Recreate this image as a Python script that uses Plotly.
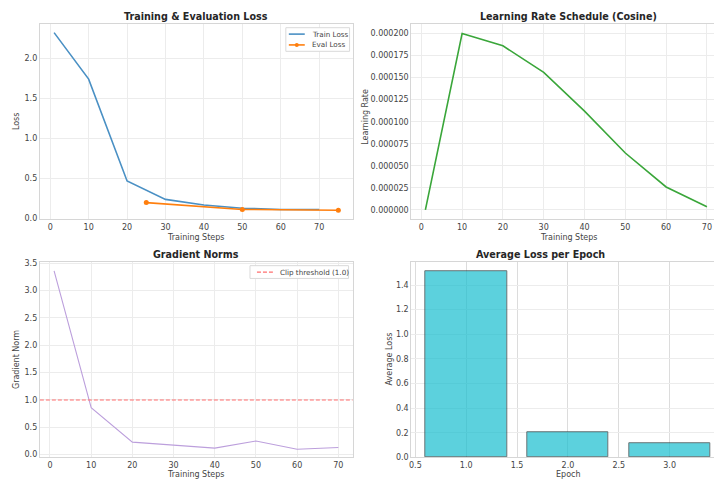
import plotly.graph_objects as go

# ---------------- data ----------------
train_steps = [1, 10, 20, 30, 40, 50, 60, 70]
train_loss = [2.32, 1.74, 0.47, 0.24, 0.17, 0.13, 0.115, 0.115]
eval_steps = [25, 50, 75]
eval_loss = [0.20, 0.115, 0.105]
lr_steps = [1, 10, 20, 30, 40, 50, 60, 70]
learning_rate = [0.0, 0.000200, 0.000186, 0.000156, 0.000112, 0.0000645, 0.000026, 0.0000035]
grad_steps = [1, 10, 20, 30, 40, 50, 60, 70]
grad_norm = [3.36, 0.86, 0.23, 0.17, 0.12, 0.25, 0.10, 0.13]
clip_threshold = 1.0
epochs = [1, 2, 3]
epoch_loss = [1.51, 0.202, 0.117]

PAGE_W, PAGE_H = 722, 486
OFF = 8  # default body margin of the html page
W, H = PAGE_W - OFF, PAGE_H - OFF
FONT = "DejaVu Sans"
GRID = "#ececec"
FRAME = "#d6d6d6"
TICKC = "#444444"

C_TRAIN = "#4a90c4"
C_EVAL = "#ff7f0e"
C_LR = "#3aa63a"
C_GRAD = "#bc9fdc"
C_CLIP = "#ff6f6f"


def px_x(p):
    return (p - OFF) / W


def px_y(p):
    return 1 - (p - OFF) / H


fig = go.Figure()

dom = {
    "x": ([px_x(38), px_x(352)], [px_y(220), px_y(21)]),
    "x2": ([px_x(411), 1.0], [px_y(220), px_y(21)]),
    "x3": ([px_x(38), px_x(352)], [px_y(462), px_y(263.5)]),
    "x4": ([px_x(411), 1.0], [px_y(462), px_y(263.5)]),
}

fig.add_trace(go.Scatter(x=train_steps, y=train_loss, mode="lines", name="Train Loss",
                         line=dict(color=C_TRAIN, width=1.6), xaxis="x", yaxis="y"))
fig.add_trace(go.Scatter(x=eval_steps, y=eval_loss, mode="lines+markers", name="Eval Loss",
                         line=dict(color=C_EVAL, width=1.6), marker=dict(size=5, color=C_EVAL),
                         xaxis="x", yaxis="y"))
fig.add_trace(go.Scatter(x=lr_steps, y=learning_rate, mode="lines", name="LR",
                         line=dict(color=C_LR, width=1.6), xaxis="x2", yaxis="y2"))
fig.add_trace(go.Scatter(x=grad_steps, y=grad_norm, mode="lines", name="Grad",
                         line=dict(color=C_GRAD, width=1.1), xaxis="x3", yaxis="y3"))
fig.add_shape(type="line", xref="x3 domain", yref="y3", x0=0, x1=1, y0=clip_threshold, y1=clip_threshold,
              line=dict(color=C_CLIP, width=1.2, dash="4px,2px"))
fig.add_trace(go.Bar(x=epochs, y=epoch_loss, width=0.8,
                     marker=dict(color="#17becf", opacity=0.7, line=dict(color="#2b3a3c", width=1)),
                     xaxis="x4", yaxis="y4"))

tickfont = dict(family=FONT, size=8, color=TICKC)


def axis(domain, anchor, rng, dtick, fmt=None, tick0=None, gridcolor=GRID):
    d = dict(domain=domain, anchor=anchor, range=rng, dtick=dtick, showgrid=True, gridcolor=gridcolor,
             gridwidth=1, zeroline=False, showline=True, linecolor=FRAME, linewidth=1, mirror=True,
             ticks="", tickfont=tickfont, ticklen=0)
    if fmt:
        d["tickformat"] = fmt
    if tick0 is not None:
        d["tick0"] = tick0
    return d


layout = dict(
    width=W, height=H, margin=dict(l=0, r=0, t=0, b=0, pad=0),
    paper_bgcolor="white", plot_bgcolor="white", showlegend=False,
    font=dict(family=FONT, color=TICKC),
    bargap=0,
)
layout["xaxis"] = axis(dom["x"][0], "y", [-2.7, 78.7], 10, tick0=0)
layout["yaxis"] = axis(dom["x"][1], "x", [-0.01, 2.43], 0.5, ".1f", tick0=0)
layout["xaxis2"] = axis(dom["x2"][0], "y2", [-2.45, 73.45], 10, tick0=0)
layout["yaxis2"] = axis(dom["x2"][1], "x2", [-0.0000108, 0.000211], 0.000025, ".6f", tick0=0)
layout["xaxis3"] = axis(dom["x3"][0], "y3", [-2.45, 73.45], 10, tick0=0)
layout["yaxis3"] = axis(dom["x3"][1], "x3", [-0.05, 3.52], 0.5, ".1f", tick0=0)
layout["xaxis4"] = axis(dom["x4"][0], "y4", [0.46, 3.505], 0.5, ".1f", tick0=0.5, gridcolor="#dcdcdc")
layout["yaxis4"] = axis(dom["x4"][1], "x4", [0, 1.585], 0.2, ".1f", tick0=0)
fig.update_layout(**layout)

# ---------------- manual legends ----------------
leg_font = dict(family=FONT, size=7.2, color=TICKC)


def legend_box(x0, y0, x1, y1):
    fig.add_shape(type="rect", xref="paper", yref="paper", x0=px_x(x0), x1=px_x(x1),
                  y0=px_y(y1), y1=px_y(y0), fillcolor="white", line=dict(color="#dadada", width=1),
                  layer="above")


def legend_item(x, y, text, color, dash="solid", marker=False, width=1.6):
    fig.add_shape(type="line", xref="paper", yref="paper", x0=px_x(x), x1=px_x(x + 16),
                  y0=px_y(y), y1=px_y(y), line=dict(color=color, width=width, dash=dash), layer="above")
    if marker:
        fig.add_shape(type="circle", xref="paper", yref="paper", x0=px_x(x + 6), x1=px_x(x + 10),
                      y0=px_y(y + 2), y1=px_y(y - 2), fillcolor=color, line=dict(color=color, width=0),
                      layer="above")
    fig.add_annotation(text=text, x=px_x(x + 21), y=px_y(y), xref="paper", yref="paper",
                       showarrow=False, xanchor="left", yanchor="middle", font=leg_font)


legend_box(285, 25, 349, 49)
legend_item(288, 31.5, "Train Loss", C_TRAIN)
legend_item(288, 42.5, "Eval Loss", C_EVAL, marker=True)

legend_box(249, 267, 348, 280)
legend_item(256, 273.5, "Clip threshold (1.0)", C_CLIP, dash="4px,2px", width=1.2)

title_font = dict(family=FONT, size=9.6, color="#262626")
label_font = dict(family=FONT, size=8, color="#444444")
annots = [
    ("<b>Training & Evaluation Loss</b>", 195, 14, 0, title_font),
    ("<b>Learning Rate Schedule (Cosine)</b>", 569, 14, 0, title_font),
    ("<b>Gradient Norms</b>", 195, 255.5, 0, title_font),
    ("<b>Average Loss per Epoch</b>", 541, 255.5, 0, title_font),
    ("Training Steps", 195, 238, 0, label_font),
    ("Training Steps", 569, 238, 0, label_font),
    ("Training Steps", 195, 479, 0, label_font),
    ("Epoch", 569, 479, 0, label_font),
    ("Loss", 14, 120, -90, label_font),
    ("Learning Rate", 365, 116, -90, label_font),
    ("Gradient Norm", 14, 362, -90, label_font),
    ("Average Loss", 389, 362, -90, label_font),
]
for text, x, y, ang, f in annots:
    fig.add_annotation(text=text, x=px_x(x), y=px_y(y), xref="paper", yref="paper", showarrow=False,
                       textangle=ang, font=f, xanchor="center", yanchor="middle")

fig.write_html("out.html")
